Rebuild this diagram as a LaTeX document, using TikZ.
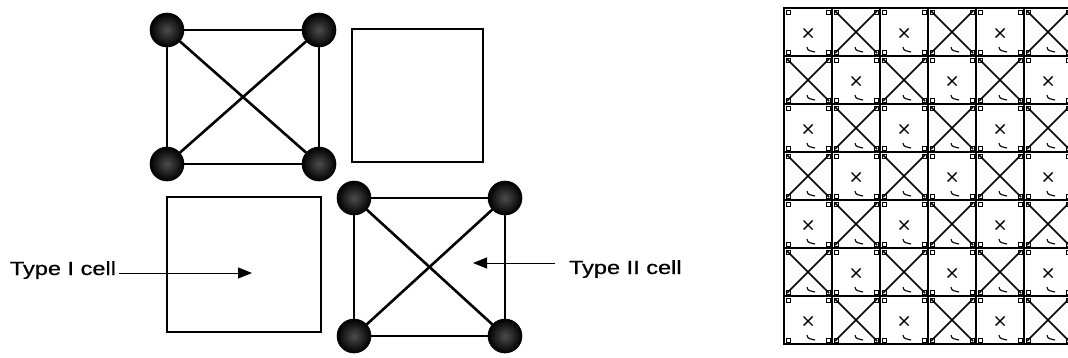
\documentclass[tikz,border=0pt]{standalone}
\usepackage{fontspec}
\setmainfont{Liberation Sans}
\newfontfamily\lblfont[FakeBold=0.6]{Liberation Sans}
\usetikzlibrary{arrows.meta}
\begin{document}
\begin{tikzpicture}[x=1pt,y=-1pt,
  ball/.style={circle,minimum size=34pt,inner sep=0pt,draw=black,line width=0.6pt,
    inner color=black!70,outer color=black},
  sqside/.style={line width=1.6pt},
  diagline/.style={line width=2.6pt},
  cellbox/.style={draw,line width=1.5pt,inner sep=0pt},
  lbl/.style={inner sep=0pt,font=\lblfont\fontsize{19}{21}\selectfont},
  callout/.style={line width=1pt,-{Triangle[length=14pt,width=11pt]}},
  gridline/.style={line width=2.2pt},
  bigx/.style={line width=1.6pt},
  smallx/.style={line width=1.4pt},
  tick/.style={line width=0.6pt},
]
\useasboundingbox[fill=white] (0,0) rectangle (1068,357);

% ---- top-left Type II cell
\node[ball] (a1) at (167,30) {};
\node[ball] (a2) at (319,30) {};
\node[ball] (a3) at (167,164) {};
\node[ball] (a4) at (319,164) {};
\draw[sqside] (a1) -- (a2) -- (a4) -- (a3) -- (a1);
\draw[diagline] (a1) -- (a4);
\draw[diagline] (a2) -- (a3);

% ---- empty square (top right)
\node[cellbox,minimum width=131pt,minimum height=133pt] (e1) at (417.5,95.5) {};

% ---- Type I cell square (bottom left)
\node[cellbox,minimum width=154pt,minimum height=135pt] (t1cell) at (244,264.5) {};

% ---- bottom-right Type II cell
\node[ball] (b1) at (354,198) {};
\node[ball] (b2) at (505,198) {};
\node[ball] (b3) at (354,336) {};
\node[ball] (b4) at (505,336) {};
\draw[sqside] (b1) -- (b2) -- (b4) -- (b3) -- (b1);
\draw[diagline] (b1) -- (b4);
\draw[diagline] (b2) -- (b3);

% ---- labels and arrows
\node[lbl,anchor=base east,outer xsep=3pt] (l1) at (119,275) {\scalebox{1.24}[1]{Type I cell}};
\node[lbl,anchor=base west,outer xsep=14pt] (l2) at (555,274) {\scalebox{1.24}[1]{Type II cell}};
\coordinate (p1) at (252,273);
\coordinate (p2) at (473,263);
\draw[callout] (l1.east |- p1) -- (p1);
\draw[callout] (l2.west |- p2) -- (p2);

% ---- right grid
\begin{scope}
\clip (770,0) rectangle (1068,357);
\foreach \r in {0,...,6}{
  \foreach \c in {0,...,5}{
    \pgfmathsetmacro{\xa}{784+48*\c}
    \pgfmathsetmacro{\ya}{8+48*\r}
    \pgfmathsetmacro{\xb}{\xa+48}
    \pgfmathsetmacro{\yb}{\ya+48}
    \pgfmathsetmacro{\cx}{\xa+24}
    \pgfmathsetmacro{\cy}{\ya+25}
    \draw[gridline] (\xa,\ya) rectangle (\xb,\yb);
    % corner brackets
    \draw[tick] (\xa+2,\ya+2) rectangle (\xa+6,\ya+6);
    \draw[tick] (\xb-2,\ya+2) rectangle (\xb-6,\ya+6);
    \draw[tick] (\xa+2,\yb-2) rectangle (\xa+6,\yb-6);
    \draw[tick] (\xb-2,\yb-2) rectangle (\xb-6,\yb-6);
    % small squiggle
    \draw[line width=1.1pt] (\cx-1,\yb-9) .. controls (\cx-1,\yb-5) and (\cx+3,\yb-5) .. (\cx+7,\yb-4);
    \pgfmathtruncatemacro{\parity}{mod(\r+\c,2)}
    \ifnum\parity=0
      \draw[smallx] (\cx-4.5,\cy-4.5) -- (\cx+4.5,\cy+4.5);
      \draw[smallx] (\cx+4.5,\cy-4.5) -- (\cx-4.5,\cy+4.5);
    \else
      \draw[bigx] (\xa+3,\ya+3) -- (\xb-3,\yb-3);
      \draw[bigx] (\xb-3,\ya+3) -- (\xa+3,\yb-3);
    \fi
  }
}
\end{scope}
\end{tikzpicture}
\end{document}
